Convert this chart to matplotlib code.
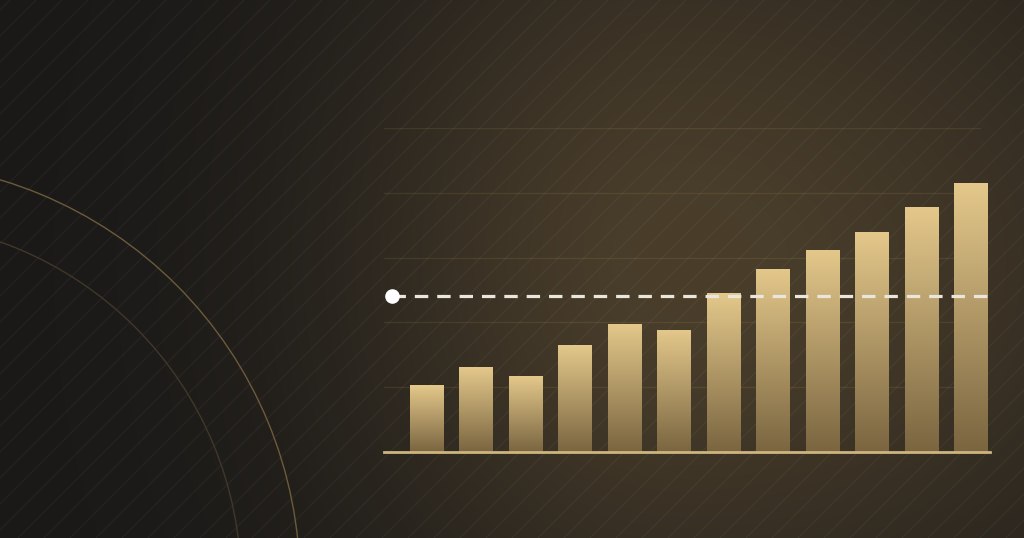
import numpy as np
import matplotlib
matplotlib.use("Agg")
import matplotlib.pyplot as plt
from matplotlib.patches import Arc
from matplotlib.collections import LineCollection

# data (grid step = 1 unit)
periods = list(range(1, 13))
values = [1.03, 1.31, 1.17, 1.65, 1.98, 1.89, 2.45, 2.83, 3.12, 3.40, 3.78, 4.15]
reference_level = 2.40
grid_levels = [1, 2, 3, 4, 5]

W, H = 1024, 538
fig = plt.figure(figsize=(W / 100, H / 100), dpi=100)

# background: dark with warm radial glow
bg = fig.add_axes([0, 0, 1, 1])
bg.set_xlim(0, W)
bg.set_ylim(H, 0)
bg.axis("off")
yy, xx = np.mgrid[0:H, 0:W]
dx = xx - 680.0
sx = np.where(dx < 0, 330.0, 520.0)
t = np.exp(-((dx / sx) ** 2 + ((yy - 260) / 390.0) ** 2))
dark = np.array([26, 25, 24]) / 255
warm = np.array([74, 62, 43]) / 255
img = dark + (warm - dark) * t[..., None]
bg.imshow(img, extent=(0, W, H, 0), aspect="auto", zorder=0)

# faint diagonal stripes
segs = []
for c in np.arange(10, W + H, 26):
    segs.append([(c - H, H), (c, 0)])
bg.add_collection(LineCollection(segs, colors="#ffffff", alpha=0.045, linewidths=0.9, zorder=1))

# concentric arcs on the left
for r, col in [(421, "#6c5a3b"), (362, "#40372a")]:
    bg.add_patch(Arc((-121, 583), 2 * r, 2 * r, color=col, lw=1.0, zorder=2))

# chart axes
left, right, base, top = 384, 990, 452, 128
ax = fig.add_axes([left / W, (H - base) / H, (right - left) / W, (base - top) / H])
ax.patch.set_alpha(0)
step = 49.45
x0 = (left - 427) / step
x1 = (right - 427) / step
ax.set_xlim(x0, x1)
ax.set_ylim(0, 5)
ax.axis("off")

for g in grid_levels:
    ax.axhline(g, xmin=0, xmax=(980 - left) / (right - left), color="#c8a86a", alpha=0.12, lw=1.0, zorder=1)

xs = np.arange(len(periods))
bars = ax.bar(xs, values, width=34 / step, color="none", zorder=2)
grad = np.linspace(0, 1, 256)[:, None]
c_top = np.array([228, 200, 139]) / 255
c_bot = np.array([122, 101, 64]) / 255
for b in bars:
    g = c_bot + (c_top - c_bot) * grad[..., None]
    x, w, h = b.get_x(), b.get_width(), b.get_height()
    im = ax.imshow(g, extent=(x, x + w, 0, h), origin="lower", aspect="auto", zorder=2)
    im.set_clip_path(b)

ax.axhline(0, color="#cdb57f", lw=2.0, zorder=3, clip_on=False)

dot_x = (392 - 427) / step
ax.plot([dot_x, x1], [reference_level, reference_level], color="#ebe6dc",
        lw=2.3, linestyle=(0, (4.2, 2.8)), zorder=4, clip_on=False)
ax.plot([dot_x], [reference_level], "o", color="#ffffff", ms=9.5, zorder=5, clip_on=False)

fig.savefig("out.png", dpi=100)
